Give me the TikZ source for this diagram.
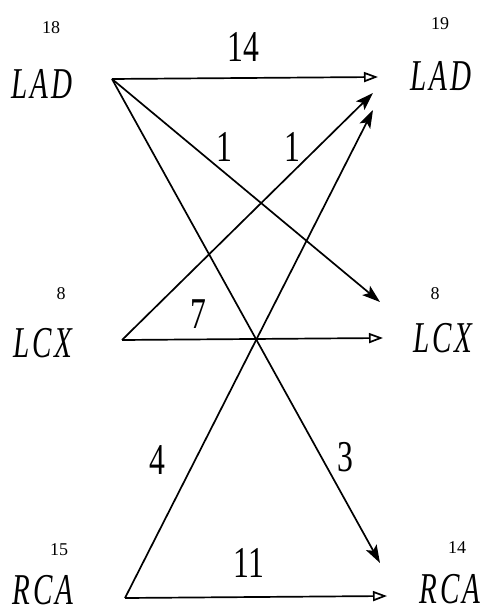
\documentclass[tikz,border=0pt]{standalone}
\usepackage{fontspec}
\setmainfont{Liberation Serif}
\newfontfamily\vesselfont[LetterSpace=10]{Liberation Serif}
\usetikzlibrary{arrows.meta}

\newcommand{\narrow}[1]{\scalebox{0.72}[1]{#1}}
\newcommand{\spaced}[1]{\scalebox{0.66}[1]{#1}}

\begin{document}
\begin{tikzpicture}[x=0.5pt,y=-0.5pt,
    vessel/.style={font=\vesselfont\fontsize{22}{24}\selectfont\itshape,inner sep=0pt},
    count/.style={font=\fontsize{9}{11}\selectfont,inner sep=0pt},
    flow/.style={font=\fontsize{22}{24}\selectfont,inner sep=0pt},
    same/.style={line width=0.85pt,-{Triangle[open,length=7pt,width=5pt]}},
    cross/.style={line width=0.85pt,-{Stealth[length=9pt,width=6pt,inset=2pt]}}]
  \useasboundingbox (0,0) rectangle (480,613);
  % left column
  \node[vessel] (ladA) at (42,84) {\spaced{LAD}};
  \node[vessel] (lcxA) at (43,343) {\spaced{LCX}};
  \node[vessel] (rcaA) at (43,590) {\spaced{RCA}};
  \node[count] (ladAn) at (51,28) {18};
  \node[count] (lcxAn) at (61,294) {8};
  \node[count] (rcaAn) at (59,550) {15};
  % right column
  \node[vessel] (ladB) at (441,76) {\spaced{LAD}};
  \node[vessel] (lcxB) at (443,338) {\spaced{LCX}};
  \node[vessel] (rcaB) at (450,589) {\spaced{RCA}};
  \node[count] (ladBn) at (440,24) {19};
  \node[count] (lcxBn) at (435,294) {8};
  \node[count] (rcaBn) at (457,548) {14};
  % line ends
  \coordinate (ladOut) at (112,79);
  \coordinate (lcxOut) at (122,340);
  \coordinate (rcaOut) at (125,598);
  \coordinate (ladInA) at (378,77);
  \coordinate (ladInB) at (373,93);
  \coordinate (ladInC) at (373,110);
  \coordinate (lcxInA) at (383,338);
  \coordinate (lcxInB) at (380,302);
  \coordinate (rcaInA) at (387,596);
  \coordinate (rcaInB) at (380,563);
  % same vessel
  \draw[same] (ladOut) -- (ladInA);
  \draw[same] (lcxOut) -- (lcxInA);
  \draw[same] (rcaOut) -- (rcaInA);
  % changed vessel
  \draw[cross] (ladOut) -- (lcxInB);
  \draw[cross] (ladOut) -- (rcaInB);
  \draw[cross] (lcxOut) -- (ladInB);
  \draw[cross] (rcaOut) -- (ladInC);
  % flow numbers
  \node[flow] (nLadLad) at (243,47) {\narrow{14}};
  \node[flow] (nLadLcx) at (224,147) {\narrow{1}};
  \node[flow] (nLcxLad) at (292,147) {\narrow{1}};
  \node[flow] (nLcxLcx) at (198,314) {\narrow{7}};
  \node[flow] (nRcaLad) at (157,460) {\narrow{4}};
  \node[flow] (nLadRca) at (345,457) {\narrow{3}};
  \node[flow] (nRcaRca) at (249,563) {\narrow{11}};
\end{tikzpicture}
\end{document}
